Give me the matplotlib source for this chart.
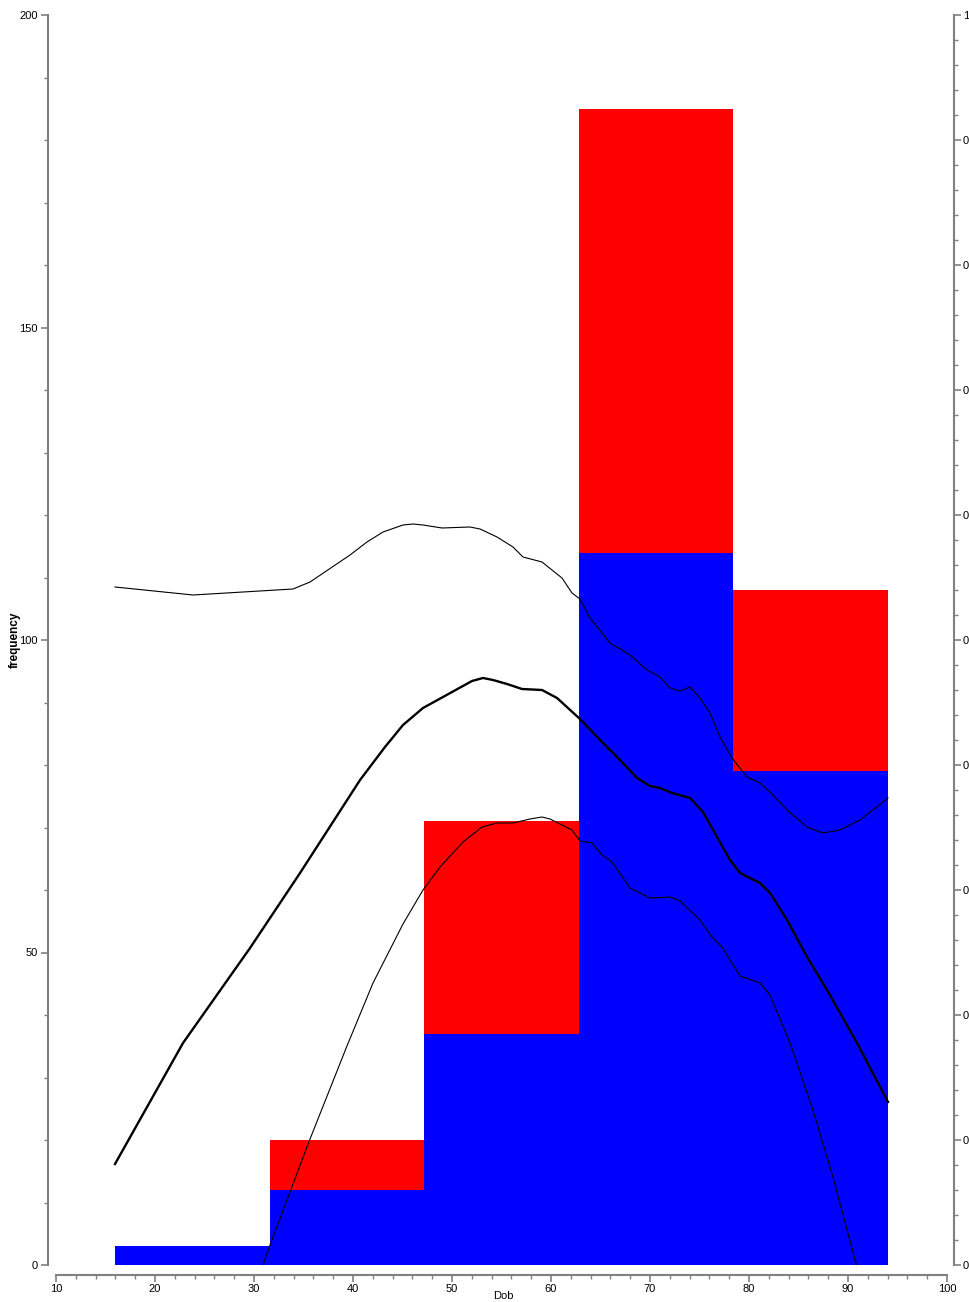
import matplotlib
matplotlib.use("Agg")
import matplotlib.pyplot as plt
from matplotlib.ticker import MultipleLocator, FixedLocator

plt.rcParams["font.family"] = ["Liberation Sans", "DejaVu Sans"]

# ---------------- data ----------------
bin_edges = [16.0, 31.6, 47.2, 62.8, 78.4, 94.0]
blue_counts = [3, 12, 37, 114, 79]
red_counts = [0, 8, 34, 71, 29]

mid_x = [15.96, 22.83, 29.6, 34.65, 40.71, 43.23, 45.05, 47.07, 49.09, 52.02, 53.13,
         54.14, 55.56, 57.07, 59.09, 60.61, 62.93, 64.95, 66.67, 68.69, 70.0, 71.01,
         72.22, 74.04, 75.35, 76.77, 78.08, 79.09, 81.11, 82.12, 83.84, 85.86, 87.88,
         90.91, 94.04]
mid_y = [0.0808, 0.1776, 0.2536, 0.3136, 0.388, 0.4144, 0.432, 0.4456, 0.4544, 0.4672,
         0.4696, 0.468, 0.4648, 0.4608, 0.46, 0.4536, 0.4368, 0.42, 0.4064, 0.3896,
         0.3832, 0.3816, 0.3776, 0.3736, 0.3624, 0.3424, 0.324, 0.3136, 0.3056, 0.2976,
         0.276, 0.2464, 0.22, 0.1776, 0.1304]

upper_x = [15.96, 23.84, 33.94, 35.66, 39.7, 41.41, 43.03, 45.05, 46.06, 47.07, 48.99,
           51.82, 52.83, 54.55, 56.16, 57.17, 59.09, 61.11, 62.12, 62.93, 63.94, 65.96,
           67.98, 69.7, 71.01, 72.02, 73.03, 74.04, 75.05, 76.06, 77.07, 78.28, 79.8,
           81.11, 82.12, 83.84, 85.86, 87.47, 89.19, 91.21, 94.04]
upper_y = [0.5424, 0.536, 0.5408, 0.5464, 0.568, 0.5784, 0.5864, 0.592, 0.5928, 0.592,
           0.5896, 0.5904, 0.5888, 0.5824, 0.5744, 0.5664, 0.5624, 0.5496, 0.5376, 0.5328,
           0.5176, 0.4976, 0.488, 0.476, 0.4704, 0.4616, 0.4592, 0.4624, 0.4536, 0.4416,
           0.4224, 0.4056, 0.3904, 0.3856, 0.3784, 0.364, 0.3504, 0.3456, 0.348, 0.356,
           0.3736]

lower_x = [30.81, 31.62, 33.33, 35.66, 39.39, 42.02, 45.05, 47.07, 48.79, 51.11, 53.03,
           54.55, 56.16, 57.88, 59.09, 59.9, 62.12, 62.93, 64.14, 65.15, 66.16, 67.98,
           70.0, 72.02, 73.03, 75.05, 76.26, 77.27, 79.09, 81.11, 82.12, 84.14, 86.46,
           88.48, 90.91]
lower_y = [-0.0024, 0.016, 0.052, 0.1008, 0.1752, 0.2256, 0.2728, 0.3, 0.3184, 0.3384,
           0.3504, 0.3536, 0.3536, 0.3568, 0.3584, 0.3568, 0.348, 0.3392, 0.3376, 0.328,
           0.3224, 0.3016, 0.2936, 0.2944, 0.2912, 0.276, 0.2624, 0.2544, 0.2312, 0.2256,
           0.216, 0.1776, 0.124, 0.0704, -0.0016]

right_ticks = [0.0, 0.1, 0.2, 0.3, 0.4, 0.5, 0.6, 0.7, 0.8, 0.9, 1.0]
right_labels = ["0", "0", "0", "0", "0", "0", "0", "0", "0", "0", "1"]

# ---------------- figure ----------------
W, H = 970, 1302
fig = plt.figure(figsize=(W / 100, H / 100), dpi=100)
ax = fig.add_axes([56 / W, (H - 1265) / H, (947 - 56) / W, 1250 / H])

lefts = bin_edges[:-1]
widths = [bin_edges[i + 1] - bin_edges[i] for i in range(len(lefts))]
ax.bar(lefts, blue_counts, width=widths, align="edge", color="#0000FF", linewidth=0)
ax.bar(lefts, red_counts, width=widths, bottom=blue_counts, align="edge",
       color="#FF0000", linewidth=0)

ax.set_xlim(10, 100)
ax.set_ylim(0, 200)

spine_col = "#808080"
for s in ["top", "right"]:
    ax.spines[s].set_visible(False)
ax.spines["left"].set_position(("outward", 6))
ax.spines["bottom"].set_position(("outward", 7))
for s in ["left", "bottom"]:
    ax.spines[s].set_color(spine_col)
    ax.spines[s].set_linewidth(1.5)

ax.xaxis.set_major_locator(MultipleLocator(10))
ax.xaxis.set_minor_locator(MultipleLocator(2))
ax.yaxis.set_major_locator(MultipleLocator(50))
ax.yaxis.set_minor_locator(MultipleLocator(10))
ax.tick_params(axis="both", which="major", length=5, width=1.2, color=spine_col,
               labelsize=8, pad=2)
ax.tick_params(axis="both", which="minor", length=3, width=1.0, color=spine_col)
ax.set_xlabel("Dob", fontsize=8, va="top")
ax.xaxis.set_label_coords((503 - 56) / 891, (1265 - 1291) / 1250)
ax.set_ylabel("frequency", fontsize=8.5, fontweight="bold", va="center")
ax.yaxis.set_label_coords((15 - 56) / 891, 0.5)

ax2 = ax.twinx()
ax2.plot(upper_x, upper_y, color="black", linewidth=0.8)
ax2.plot(lower_x, lower_y, color="black", linewidth=0.8)
ax2.plot(mid_x, mid_y, color="black", linewidth=1.7)
ax2.set_ylim(0, 1)
for s in ["top", "left", "bottom"]:
    ax2.spines[s].set_visible(False)
ax2.spines["right"].set_position(("outward", 5))
ax2.spines["right"].set_color(spine_col)
ax2.spines["right"].set_linewidth(1.5)
ax2.yaxis.set_major_locator(FixedLocator(right_ticks))
ax2.set_yticklabels(right_labels)
ax2.yaxis.set_minor_locator(MultipleLocator(0.02))
ax2.tick_params(axis="y", which="major", length=5, width=1.2, color=spine_col,
                labelsize=8, pad=1.5)
ax2.tick_params(axis="y", which="minor", length=3, width=1.0, color=spine_col)

fig.savefig("out.png", dpi=100)
